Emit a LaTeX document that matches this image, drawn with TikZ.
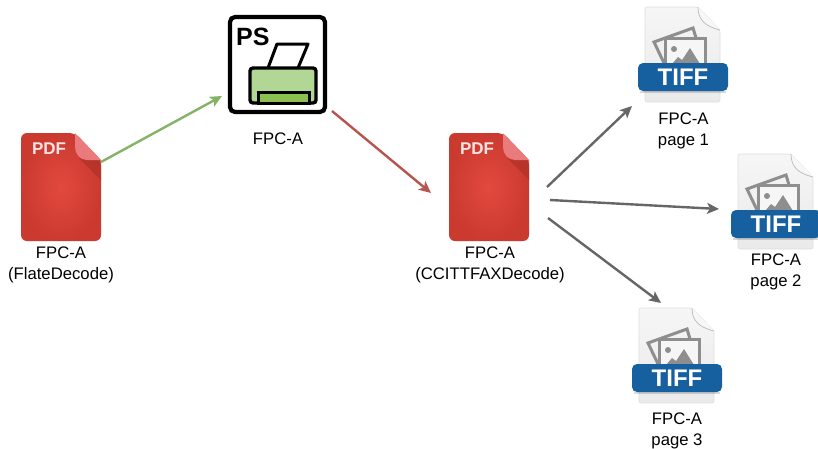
\documentclass[tikz,border=0pt]{standalone}
\usepackage{fontspec}
\setmainfont{Liberation Sans}
\usetikzlibrary{arrows.meta}
\definecolor{pdfA}{HTML}{E2493F}
\definecolor{pdfB}{HTML}{CB3A2F}
\definecolor{flap}{HTML}{E97B7C}
\definecolor{flapS}{HTML}{AE3229}
\definecolor{bandc}{HTML}{17609F}
\definecolor{pagetop}{HTML}{F6F6F6}
\definecolor{pagebot}{HTML}{EAEAEA}
\definecolor{photoc}{HTML}{8E8E8E}
\definecolor{prA}{HTML}{B2D693}
\definecolor{prB}{HTML}{8CC152}
\definecolor{arG}{HTML}{82B366}
\definecolor{arR}{HTML}{B85450}
\definecolor{arK}{HTML}{666666}
\tikzset{
  x=1pt,y=-1pt,
  captext/.style={align=center,font=\fontsize{16.7}{21}\selectfont,text=black,inner sep=0pt},
  ghost/.style={inner sep=0pt,outer sep=0pt,minimum width=#1,anchor=north west},
  link/.style={line width=2.4pt,-{Stealth[length=12pt,width=11pt,inset=3pt]}},
  pics/pdficon/.style={code={
    \shade[inner color=pdfA,outer color=pdfB,rounded corners=6pt] (0,0)--(54,0)--(80,27)--(80,108)--(0,108)--cycle;
    \fill[flapS,opacity=.7] (58,25)--(80,27)--(80,47)--cycle;
    \fill[flap] (54,0)--(80,27)--(66,27) .. controls (59,27) and (54,21) .. (54,14)--cycle;
    \node[text=white!85!pdfA,font=\bfseries\fontsize{17}{17}\selectfont,inner sep=0pt] at (28,16) {PDF};
  }},
  pics/tifficon/.style={code={
    \shade[top color=pagetop,bottom color=pagebot,draw=black!13,line width=.6pt,rounded corners=2pt] (7,-57)--(60,-57)--(82,-34)--(82,38)--(7,38)--cycle;
    \fill[white!97!black] (60,-57) .. controls (60,-45) and (66,-38) .. (82,-34)--cycle;
    \draw[black!28,line width=.7pt] (60,-57) .. controls (60,-45) and (66,-38) .. (82,-34);
    \draw[photoc,line width=3pt] (26,-1)--(16,-22)--(55,-36)--(58,-26);
    \fill[pagetop] (27,-26) rectangle (67,0);
    \draw[photoc,line width=3pt] (27,0)--(27,-26)--(67,-26)--(67,0);
    \fill[photoc] (36,-15) circle (3pt);
    \fill[photoc] (34,0)--(40,-7)--(44,-4)--(52,-16)--(62,0)--cycle;
    \fill[bandc,rounded corners=5pt] (0,-1) rectangle (90,27);
    \fill[black,opacity=.15] (2,27) rectangle (88,29);
    \node[text=white,font=\bfseries\fontsize{24}{24}\selectfont,inner sep=0pt] at (45,13) {TIFF};
  }}
}
\begin{document}
\begin{tikzpicture}
\useasboundingbox (0,0) rectangle (818,448);
\pic at (21,133) {pdficon};
\pic at (449,133) {pdficon};
\pic at (638,64) {tifficon};
\pic at (731,211) {tifficon};
\pic at (632,365) {tifficon};
% printer
\draw[line width=4.2pt,fill=white,rounded corners=5pt] (230,17) rectangle (325,112);
\node[font=\bfseries\fontsize{25}{25}\selectfont,inner sep=0pt,anchor=west] (ps) at (236,37) {PS};
\draw[line width=3pt,line join=round,fill=white] (268,68)--(277,44)--(308,44)--(298,68);
\draw[line width=3.4pt,fill=prA,rounded corners=3pt] (250,68) rectangle (316,103);
\draw[line width=3pt,fill=prB] (258,103)--(258,92)--(309,92)--(309,103)--cycle;
% nodes the connectors attach to
\node[ghost=80pt,minimum height=108pt] (pdfa) at (21,133) {};
\node[ghost=96pt,minimum height=96pt] (printer) at (229,16) {};
\node[ghost=80pt,minimum height=108pt] (pdfb) at (449,133) {};
\node[ghost=90pt,minimum height=95pt] (tiffa) at (638,7) {};
\node[ghost=90pt,minimum height=95pt] (tiffb) at (731,154) {};
\node[ghost=90pt,minimum height=95pt] (tiffc) at (632,308) {};
% captions
\node[captext] (capa) at (61,265) {FPC-A\\(FlateDecode)};
\node[captext] (capp) at (278,139) {FPC-A};
\node[captext] (capb) at (490,265) {FPC-A\\(CCITTFAXDecode)};
\node[captext] (capc) at (683.5,131) {FPC-A\\page 1};
\node[captext] (capd) at (776,272) {FPC-A\\page 2};
\node[captext] (cape) at (677,431) {FPC-A\\page 3};
% connectors
\draw[link,arG] ([shift={(0,29)}]pdfa.north east) -- ([shift={(-7,32)}]printer.west);
\draw[link,arR] ([shift={(7,-1)}]printer.south east) -- ([shift={(-18,6)}]pdfb.west);
\draw[link,arK] ([shift={(18,0)}]pdfb.east) -- ([shift={(-6,51.5)}]tiffa.west);
\draw[link,arK] ([shift={(21,13)}]pdfb.east) -- ([shift={(-12,7.5)}]tiffb.west);
\draw[link,arK] ([shift={(19,31)}]pdfb.east) -- ([shift={(-16,-5)}]tiffc.north);
\end{tikzpicture}
\end{document}
